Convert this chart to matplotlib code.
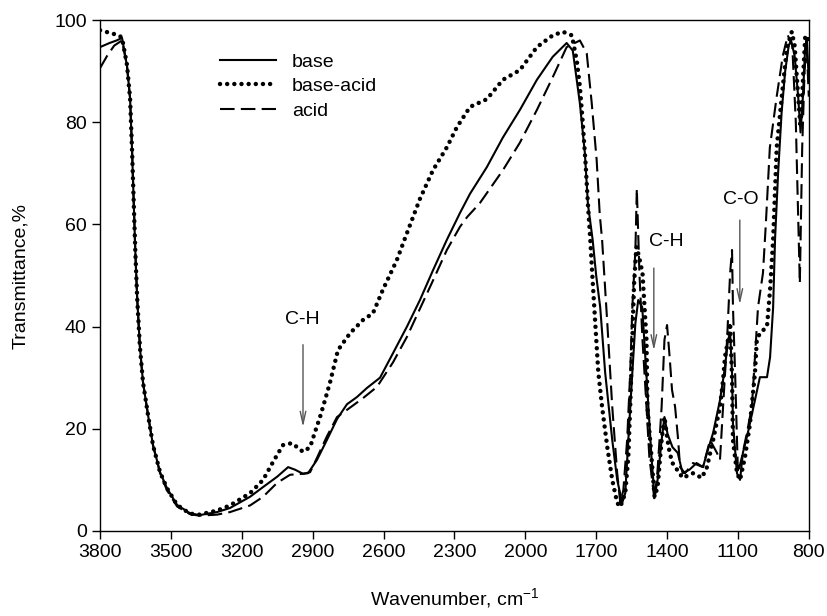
import matplotlib
matplotlib.use("Agg")
import matplotlib.pyplot as plt

plt.rcParams['font.family'] = ['Liberation Sans', 'DejaVu Sans']
plt.rcParams['mathtext.fontset'] = 'custom'
plt.rcParams['mathtext.rm'] = 'Liberation Sans'
plt.rcParams['mathtext.it'] = 'Liberation Sans:italic'

# base (solid)
base_x = [3800, 3760, 3730, 3707, 3686, 3673, 3665, 3658, 3651, 3643, 3631, 3618, 3597, 3576,
          3546, 3517, 3474, 3420, 3380, 3305, 3250, 3165, 3110, 3051, 3004, 2975, 2941, 2920,
          2882, 2840, 2797, 2755, 2713, 2670, 2615, 2560, 2501, 2446, 2391, 2332, 2277, 2234,
          2163, 2095, 2023, 1951, 1884, 1825, 1799, 1769, 1748, 1735, 1715, 1700, 1683, 1662,
          1632, 1611, 1590, 1577, 1564, 1547, 1534, 1522, 1505, 1492, 1479, 1466, 1453, 1440,
          1423, 1411, 1398, 1377, 1355, 1334, 1305, 1275, 1248, 1231, 1205, 1176, 1155, 1142,
          1133, 1125, 1121, 1104, 1091, 1079, 1058, 1028, 1007, 977, 964, 951, 943, 930, 915,
          900, 885, 875, 860, 845, 835, 825, 815, 808, 800]
base_y = [94.7, 95.5, 96, 96.5, 91, 84.7, 75, 65, 55, 45.6, 35.8, 29, 22.7, 16.8,
          11.5, 8.4, 5.1, 3.5, 3.1, 3.7, 4.5, 6.7, 8.6, 10.6, 12.5, 12, 11.2, 11.3,
          13.9, 17.8, 21.9, 24.8, 26.2, 28, 30, 34.8, 40, 45.2, 51, 57, 62.2, 66,
          71.2, 77, 82.4, 88.3, 92.8, 95.5, 94, 83.7, 74, 64, 57, 50, 43.8, 31,
          17.8, 10, 5.5, 7.4, 17.8, 31, 40.7, 45.2, 43.8, 34, 24.3, 14.5, 6.7, 10,
          17.8, 22.3, 19, 16.4, 15.3, 11.3, 12, 13.3, 12.5, 15.3, 19.2, 25.6, 32, 37.4,
          38.7, 31, 21, 11.3, 10, 15.3, 19.2, 25.6, 30.1, 30.1, 34, 43.8, 57, 70, 82,
          90, 95, 96, 93, 85, 78, 85, 95, 96, 88]

# base-acid (dotted)
ba_x = [3800, 3760, 3720, 3707, 3686, 3673, 3665, 3658, 3651, 3643, 3631, 3618, 3597, 3576,
        3546, 3517, 3474, 3420, 3380, 3305, 3250, 3165, 3110, 3068, 3026, 2988, 2941, 2911,
        2890, 2869, 2848, 2827, 2793, 2742, 2687, 2645, 2603, 2544, 2501, 2446, 2391, 2332,
        2290, 2234, 2163, 2095, 2023, 1951, 1884, 1841, 1803, 1782, 1769, 1757, 1745, 1735,
        1725, 1717, 1704, 1691, 1675, 1653, 1632, 1611, 1598, 1577, 1564, 1556, 1547, 1540,
        1530, 1520, 1504, 1487, 1483, 1466, 1453, 1440, 1423, 1411, 1398, 1389, 1377, 1334,
        1290, 1253, 1231, 1205, 1176, 1163, 1155, 1142, 1133, 1125, 1121, 1104, 1091, 1070,
        1049, 1028, 1020, 1007, 977, 964, 951, 936, 915, 893, 872, 860, 845, 835, 825, 815, 800]
ba_y = [98, 97.5, 97, 96.5, 91.2, 84.7, 75, 65, 55, 45.6, 35.8, 29, 22.7, 16.8,
        11.5, 8.4, 5.1, 3.4, 3.2, 4, 5, 7.4, 10, 13.5, 16.8, 17.2, 15.5, 16.4,
        19.4, 22.3, 25.6, 29, 35.4, 38.7, 41.3, 42.6, 47.2, 53, 58.3, 65, 70.6, 75.1,
        79, 83, 84.5, 88.3, 90.2, 94.7, 97, 97.7, 97, 92, 87, 80, 72, 64,
        57, 50.5, 40.7, 31, 24.3, 16.4, 10, 5.5, 4.7, 7.4, 14.5, 24.3, 37.4, 48,
        55.6, 54, 50.5, 37.4, 24.3, 14.5, 6.7, 8.6, 17.8, 22.3, 17.8, 15.3, 13.3, 10.4,
        11.3, 10.4, 12.5, 17.8, 24.3, 29.5, 34, 37.4, 40.7, 30, 17.8, 11.3, 10, 14.5,
        21, 30.9, 37.4, 38.7, 40, 47.2, 57, 75, 84.7, 94.5, 97.7, 95, 85, 79, 88, 97, 96]

# acid (dashed)
acid_x = [3800, 3770, 3740, 3707, 3686, 3673, 3665, 3658, 3651, 3643, 3631, 3618, 3597, 3576,
          3546, 3517, 3474, 3420, 3380, 3305, 3250, 3165, 3110, 3051, 2996, 2941, 2911, 2882,
          2840, 2797, 2755, 2687, 2628, 2560, 2501, 2446, 2391, 2332, 2277, 2247, 2192, 2095,
          2023, 1951, 1884, 1825, 1769, 1740, 1719, 1698, 1685, 1675, 1653, 1632, 1611, 1598,
          1585, 1569, 1556, 1547, 1534, 1528, 1517, 1504, 1487, 1475, 1453, 1440, 1423, 1411,
          1400, 1389, 1379, 1366, 1353, 1345, 1324, 1290, 1248, 1218, 1189, 1176, 1163, 1146,
          1133, 1125, 1121, 1112, 1104, 1100, 1083, 1062, 1041, 1028, 1015, 994, 982, 965, 936,
          910, 889, 870, 855, 838, 828, 818, 810, 800]
acid_y = [90.6, 93, 95, 96, 91, 84.7, 75, 65, 55, 45.6, 35.8, 29, 22.7, 16.8,
          11.3, 8, 4.8, 3.3, 3.0, 3.2, 3.7, 5, 6.7, 9.4, 11, 11.2, 11.5, 14.3,
          18.5, 22.3, 23.7, 26, 28.2, 33, 38, 43.5, 49, 55, 59.5, 61.4, 64.2, 70.6,
          76, 82.4, 88.8, 94.7, 96, 93.5, 83.8, 72.6, 62, 57, 40.7, 24.3, 11.3, 5.5,
          8, 17.8, 31, 43.8, 55, 67, 50.5, 37.4, 24.3, 14.5, 6, 12, 24.3, 37.4,
          40.3, 34, 27.6, 24.3, 17.8, 12.5, 11.3, 13.3, 12.5, 17.8, 15.3, 13.9, 24.3, 37.4,
          50.5, 55, 43.8, 31, 17.8, 11.3, 14.5, 19.2, 24.3, 34, 43.8, 50.5, 60, 75, 85,
          93, 97, 95, 80, 48.5, 75, 90, 96, 85]

x_ticks = [3800, 3500, 3200, 2900, 2600, 2300, 2000, 1700, 1400, 1100, 800]
y_ticks = [0, 20, 40, 60, 80, 100]

fig = plt.figure(figsize=(8.27, 6.16), dpi=100)
ax = fig.add_axes([0.121, 0.138, 0.857, 0.8295])

ax.plot(base_x, base_y, color='black', lw=1.5, linestyle='-', label='base')
ax.plot(ba_x, ba_y, color='black', lw=3.2, linestyle=(0, (0.01, 1.6)),
        dash_capstyle='round', label='base-acid')
ax.plot(acid_x, acid_y, color='black', lw=1.5, linestyle=(0, (7, 3)), label='acid')

ax.set_xlim(3800, 800)
ax.set_ylim(0, 100)
ax.set_xticks(x_ticks)
ax.set_yticks(y_ticks)
ax.tick_params(direction='out', length=6, width=1, labelsize=14)
for s in ax.spines.values():
    s.set_linewidth(1)

ax.set_xlabel('Wavenumber, cm$^{-1}$', fontsize=14, labelpad=18)
ax.set_ylabel('Transmittance,%', fontsize=14, labelpad=18)

# annotations
arrow = dict(arrowstyle='->,head_length=0.9,head_width=0.2', color='#555555', lw=1)
ax.annotate('', xy=(2941, 19.8), xytext=(2941, 37), arrowprops=arrow)
ax.text(2945, 41.3, 'C-H', fontsize=14, ha='center', va='center')
ax.annotate('', xy=(1456, 34.8), xytext=(1456, 52), arrowprops=arrow)
ax.text(1405, 56.6, 'C-H', fontsize=14, ha='center', va='center')
ax.annotate('', xy=(1092, 43.8), xytext=(1092, 61.4), arrowprops=arrow)
ax.text(1086, 64.8, 'C-O', fontsize=14, ha='center', va='center')

ax.legend(frameon=False, loc='upper left', bbox_to_anchor=(0.169, 0.935),
          borderpad=0, borderaxespad=0, handlelength=2.9, handletextpad=0.8,
          labelspacing=0.35, fontsize=14)

fig.savefig('out.png', dpi=100)
